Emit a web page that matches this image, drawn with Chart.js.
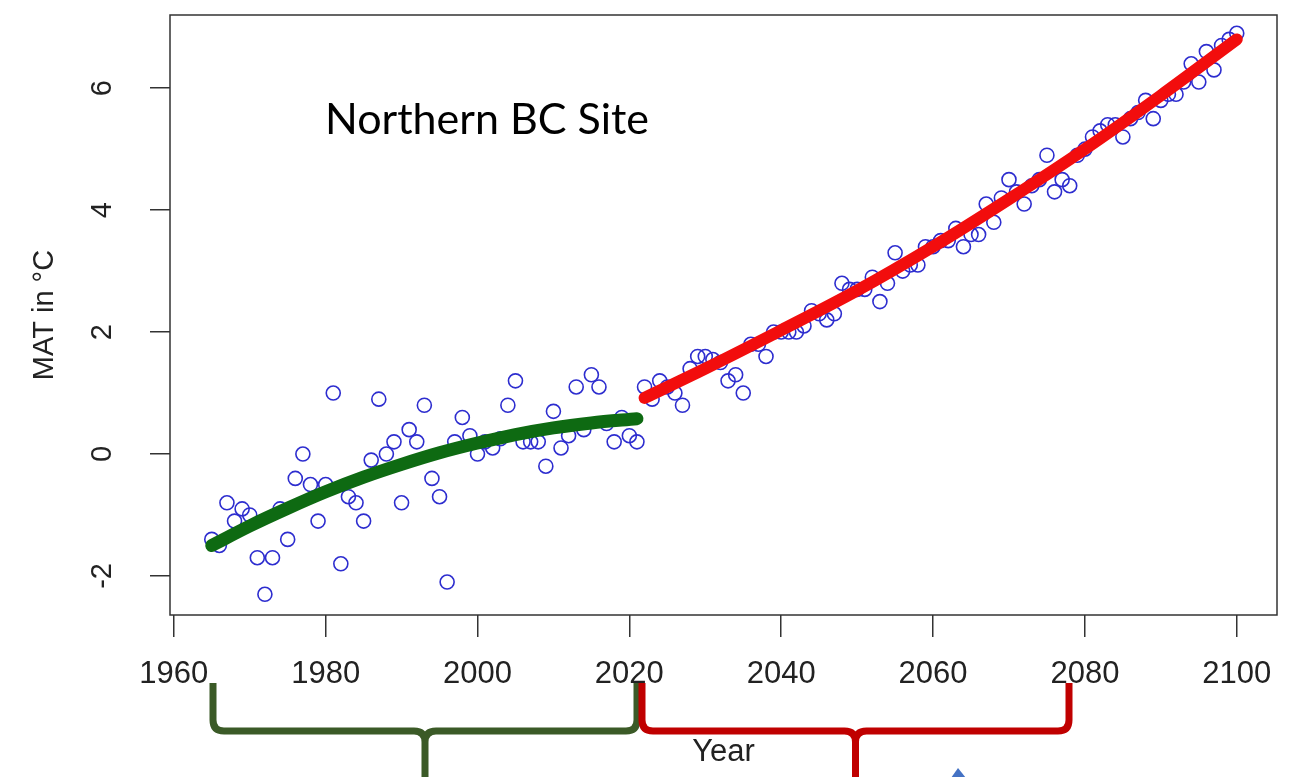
<!DOCTYPE html>
<html>
<head>
<meta charset="utf-8">
<script src="https://cdn.jsdelivr.net/npm/chart.js@4/dist/chart.umd.min.js"></script>
<style>
  html, body { margin: 0; padding: 0; background: #ffffff; }
  #wrap { width: 1289px; height: 777px; position: relative; }
</style>
</head>
<body>
<div id="wrap"><canvas id="chart" width="1289" height="777"></canvas></div>
<script>
// Mean annual temperature (MAT, °C), observed 1965-2021
const histYears = [
  1965, 1966, 1967, 1968, 1969, 1970, 1971, 1972, 1973, 1974,
  1975, 1976, 1977, 1978, 1979, 1980, 1981, 1982, 1983, 1984,
  1985, 1986, 1987, 1988, 1989, 1990, 1991, 1992, 1993, 1994,
  1995, 1996, 1997, 1998, 1999, 2000, 2001, 2002, 2003, 2004,
  2005, 2006, 2007, 2008, 2009, 2010, 2011, 2012, 2013, 2014,
  2015, 2016, 2017, 2018, 2019, 2020, 2021
];
const histTemps = [
  -1.4, -1.5, -0.8, -1.1, -0.9, -1.0, -1.7, -2.3, -1.7, -0.9,
  -1.4, -0.4,  0.0, -0.5, -1.1, -0.5,  1.0, -1.8, -0.7, -0.8,
  -1.1, -0.1,  0.9,  0.0,  0.2, -0.8,  0.4,  0.2,  0.8, -0.4,
  -0.7, -2.1,  0.2,  0.6,  0.3,  0.0,  0.2,  0.1,  0.25, 0.8,
   1.2,  0.2,  0.2,  0.2, -0.2,  0.7,  0.1,  0.3,  1.1,  0.4,
   1.3,  1.1,  0.5,  0.2,  0.6,  0.3,  0.2
];

// Projected MAT, 2022-2100
const projYears = [
  2022, 2023, 2024, 2025, 2026, 2027, 2028, 2029, 2030, 2031,
  2032, 2033, 2034, 2035, 2036, 2037, 2038, 2039, 2040, 2041,
  2042, 2043, 2044, 2045, 2046, 2047, 2048, 2049, 2050, 2051,
  2052, 2053, 2054, 2055, 2056, 2057, 2058, 2059, 2060, 2061,
  2062, 2063, 2064, 2065, 2066, 2067, 2068, 2069, 2070, 2071,
  2072, 2073, 2074, 2075, 2076, 2077, 2078, 2079, 2080, 2081,
  2082, 2083, 2084, 2085, 2086, 2087, 2088, 2089, 2090, 2091,
  2092, 2093, 2094, 2095, 2096, 2097, 2098, 2099, 2100
];
const projTemps = [
  1.1, 0.9, 1.2, 1.1, 1.0, 0.8, 1.4, 1.6, 1.6, 1.55,
  1.5, 1.2, 1.3, 1.0, 1.8, 1.8, 1.6, 2.0, 2.0, 2.0,
  2.0, 2.1, 2.35, 2.3, 2.2, 2.3, 2.8, 2.7, 2.7, 2.7,
  2.9, 2.5, 2.8, 3.3, 3.0, 3.1, 3.1, 3.4, 3.4, 3.5,
  3.5, 3.7, 3.4, 3.6, 3.6, 4.1, 3.8, 4.2, 4.5, 4.3,
  4.1, 4.4, 4.5, 4.9, 4.3, 4.5, 4.4, 4.9, 5.0, 5.2,
  5.3, 5.4, 5.4, 5.2, 5.5, 5.6, 5.8, 5.5, 5.8, 5.9,
  5.9, 6.1, 6.4, 6.1, 6.6, 6.3, 6.7, 6.8, 6.9
];

// Smoothed trend through the observed period
const histTrendYears = [1965, 1970, 1975, 1980, 1985, 1990, 1995, 2000, 2005, 2010, 2015, 2021];
const histTrendTemps = [-1.5, -1.18, -0.89, -0.62, -0.38, -0.17, 0.02, 0.18, 0.32, 0.43, 0.51, 0.58];

// Smoothed trend through the projection
const projTrendYears = [2022, 2030, 2040, 2050, 2060, 2070, 2080, 2090, 2100];
const projTrendTemps = [0.92, 1.4, 2.03, 2.68, 3.4, 4.18, 5.0, 5.88, 6.8];

// Axis ticks
const yearTicks = [1960, 1980, 2000, 2020, 2040, 2060, 2080, 2100];
const tempTicks = [-2, 0, 2, 4, 6];

const siteLabel = 'Northern BC Site';

const toPoints = (xs, ys) => xs.map((x, i) => ({ x: x, y: ys[i] }));

// Frame box, site label and period braces
const decorations = {
  id: 'decorations',
  afterDatasetsDraw(chart) {
    const { ctx, chartArea: a } = chart;
    ctx.save();
    ctx.strokeStyle = '#333333';
    ctx.lineWidth = 1.5;
    ctx.strokeRect(a.left, a.top, a.right - a.left, a.bottom - a.top);

    ctx.fillStyle = '#000000';
    ctx.font = '43px Lato';
    ctx.textBaseline = 'middle';
    ctx.textAlign = 'left';
    ctx.fillText(siteLabel, 325, 120);
    ctx.restore();
  },
  afterDraw(chart) {
    const { ctx } = chart;
    const brace = (x0, x1, color) => {
      const xm = (x0 + x1) / 2, yTop = 683, yH = 731, r = 11;
      ctx.save();
      ctx.strokeStyle = color;
      ctx.lineWidth = 7;
      ctx.lineJoin = 'round';
      ctx.lineCap = 'butt';
      ctx.beginPath();
      ctx.moveTo(x0, yTop);
      ctx.lineTo(x0, yH - r);
      ctx.quadraticCurveTo(x0, yH, x0 + r, yH);
      ctx.lineTo(xm - r, yH);
      ctx.quadraticCurveTo(xm, yH, xm, yH + r);
      ctx.lineTo(xm, 790);
      ctx.moveTo(xm, yH + r);
      ctx.quadraticCurveTo(xm, yH, xm + r, yH);
      ctx.lineTo(x1 - r, yH);
      ctx.quadraticCurveTo(x1, yH, x1, yH - r);
      ctx.lineTo(x1, yTop);
      ctx.stroke();
      ctx.restore();
    };
    brace(213, 637, '#3b5a27');
    brace(642, 1069, '#c00000');

    // tip of an arrow entering from below
    ctx.save();
    ctx.fillStyle = '#4472c4';
    ctx.beginPath();
    ctx.moveTo(951, 778);
    ctx.lineTo(958, 768);
    ctx.lineTo(966, 778);
    ctx.closePath();
    ctx.fill();
    ctx.restore();
  }
};

new Chart(document.getElementById('chart'), {
  type: 'scatter',
  data: {
    datasets: [
      {
        label: 'Observed trend',
        data: toPoints(histTrendYears, histTrendTemps),
        showLine: true,
        borderColor: '#0e6a12',
        borderWidth: 13,
        borderCapStyle: 'round',
        pointRadius: 0,
        tension: 0.4,
        cubicInterpolationMode: 'monotone',
        order: 1
      },
      {
        label: 'Projected trend',
        data: toPoints(projTrendYears, projTrendTemps),
        showLine: true,
        borderColor: '#f20d0d',
        borderWidth: 12,
        borderCapStyle: 'round',
        pointRadius: 0,
        tension: 0.4,
        cubicInterpolationMode: 'monotone',
        order: 1
      },
      {
        label: 'Observed',
        data: toPoints(histYears, histTemps),
        pointStyle: 'circle',
        pointRadius: 7,
        borderWidth: 1.6,
        borderColor: '#2d2dcf',
        backgroundColor: 'rgba(0,0,0,0)',
        order: 2
      },
      {
        label: 'Projected',
        data: toPoints(projYears, projTemps),
        pointStyle: 'circle',
        pointRadius: 7,
        borderWidth: 1.6,
        borderColor: '#2d2dcf',
        backgroundColor: 'rgba(0,0,0,0)',
        order: 2
      }
    ]
  },
  options: {
    responsive: false,
    animation: false,
    events: [],
    layout: { padding: { left: 0, right: 12, top: 15, bottom: 0 } },
    plugins: {
      legend: { display: false },
      tooltip: { enabled: false }
    },
    scales: {
      x: {
        type: 'linear',
        min: 1959.5,
        max: 2105.3,
        afterBuildTicks: (s) => { s.ticks = yearTicks.map(v => ({ value: v })); },
        afterFit: (s) => { s.height = 162; s.paddingLeft = 0; s.paddingRight = 0; },
        border: { display: false },
        grid: { drawOnChartArea: false, drawTicks: true, tickLength: 22, color: '#333333', lineWidth: 1.5 },
        ticks: {
          color: '#222222',
          font: { family: 'Liberation Sans', size: 31 },
          padding: 19,
          maxRotation: 0,
          callback: (v) => String(v)
        },
        title: {
          display: true,
          text: 'Year',
          color: '#222222',
          font: { family: 'Liberation Sans', size: 31 },
          padding: { top: 0, bottom: 6 }
        }
      },
      y: {
        type: 'linear',
        min: -2.64,
        max: 7.2,
        afterBuildTicks: (s) => { s.ticks = tempTicks.map(v => ({ value: v })); },
        afterFit: (s) => { s.width = 170; s.paddingTop = 0; s.paddingBottom = 0; },
        border: { display: false },
        grid: { drawOnChartArea: false, drawTicks: true, tickLength: 20, color: '#333333', lineWidth: 1.5 },
        ticks: {
          color: '#222222',
          font: { family: 'Liberation Sans', size: 29 },
          padding: 34,
          minRotation: 90,
          maxRotation: 90,
          crossAlign: 'center',
          callback: (v) => String(v)
        },
        title: {
          display: true,
          text: 'MAT in °C',
          color: '#222222',
          font: { family: 'Liberation Sans', size: 29 },
          padding: { top: 28, bottom: 0 }
        }
      }
    }
  },
  plugins: [decorations]
});
</script>
</body>
</html>
